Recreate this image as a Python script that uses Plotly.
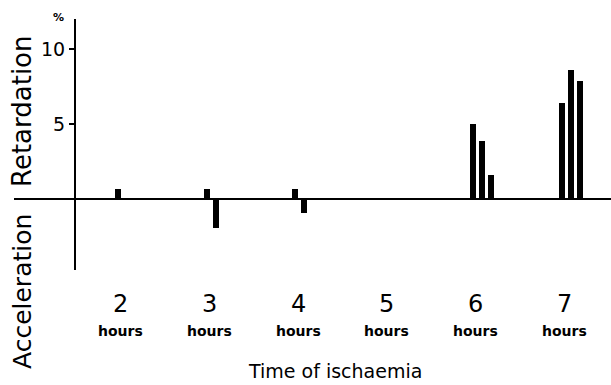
import plotly.graph_objects as go

# Change in rate (%) at each ischaemia time; positive = retardation, negative = acceleration
hours = [2, 3, 4, 5, 6, 7]
values_2h = [0.7]
values_3h = [0.7, -1.9]
values_4h = [0.7, -0.9]
values_5h = [0.1, 0.1]
values_6h = [5.0, 3.9, 1.6]
values_7h = [6.4, 8.6, 7.9]
y_ticks = [5, 10]

groups = [values_2h, values_3h, values_4h, values_5h, values_6h, values_7h]

# bars within a group sit side by side, just to the right of the group label
bar_step = 0.101
bar_start = -0.03
bar_width = 0.068

xs, ys = [], []
for h, vals in zip(hours, groups):
    for i, v in enumerate(vals):
        xs.append(h + bar_start + i * bar_step)
        ys.append(v)

FONT = "DejaVu Sans"

fig = go.Figure()
fig.add_trace(go.Bar(
    x=xs, y=ys, width=bar_width,
    marker=dict(color="black", line=dict(width=0)),
    showlegend=False, hoverinfo="skip",
))

# plot area spans pixels 14..611 horizontally, 19..270 vertically
x_left, x_right = 0.799, 7.525
fig.update_layout(
    width=611, height=385,
    margin=dict(l=14, r=0, t=19, b=115),
    paper_bgcolor="white", plot_bgcolor="white",
    bargap=0,
    xaxis=dict(range=[x_left, x_right], showgrid=False, zeroline=False,
               showticklabels=False, ticks="", showline=False),
    yaxis=dict(range=[-4.73, 12.0], anchor="free", position=(75 - 14) / 597,
               showline=True, linecolor="black", linewidth=2,
               showgrid=False, zeroline=True, zerolinecolor="black", zerolinewidth=2,
               tickvals=y_ticks, ticktext=[str(t) for t in y_ticks],
               ticks="outside", ticklen=5, tickwidth=1.5, tickcolor="black",
               tickfont=dict(family=FONT, size=19, color="black")),
)

annotations = []
for h in hours:
    annotations.append(dict(x=h, y=-0.135, xref="x", yref="paper", text=str(h),
                            showarrow=False, xanchor="center", yanchor="middle",
                            font=dict(family=FONT, size=24, color="black")))
    annotations.append(dict(x=h, y=-0.243, xref="x", yref="paper", text="<b>hours</b>",
                            showarrow=False, xanchor="center", yanchor="middle",
                            font=dict(family=FONT, size=14, color="black")))

annotations += [
    dict(x=(335 - 14) / 597, y=(270 - 371) / 251, xref="paper", yref="paper",
         text="Time of ischaemia", showarrow=False, xanchor="center", yanchor="middle",
         font=dict(family=FONT, size=19, color="black")),
    dict(x=(22 - 14) / 597, y=(270 - 111) / 251, xref="paper", yref="paper",
         text="Retardation", textangle=-90, showarrow=False,
         xanchor="center", yanchor="middle",
         font=dict(family=FONT, size=26, color="black")),
    dict(x=(22 - 14) / 597, y=(270 - 292) / 251, xref="paper", yref="paper",
         text="Acceleration", textangle=-90, showarrow=False,
         xanchor="center", yanchor="middle",
         font=dict(family=FONT, size=25, color="black")),
    dict(x=(59 - 14) / 597, y=(270 - 17) / 251, xref="paper", yref="paper",
         text="<b>%</b>", showarrow=False, xanchor="center", yanchor="middle",
         font=dict(family=FONT, size=11, color="black")),
]
fig.update_layout(annotations=annotations)

fig.write_html("out.html")
